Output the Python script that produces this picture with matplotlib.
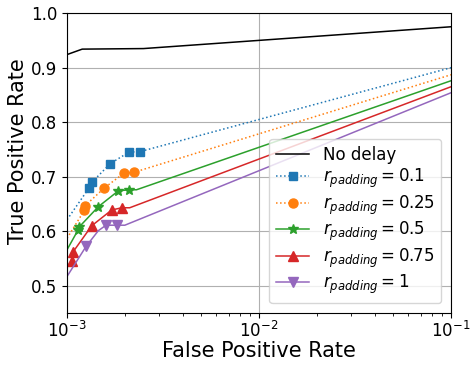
import matplotlib
matplotlib.use("Agg")
import matplotlib.pyplot as plt

# No delay curve
nodelay_fpr = [1.0e-3, 1.2e-3, 2.5e-3, 1.0e-1]
nodelay_tpr = [0.924, 0.934, 0.935, 0.975]

# r_padding = 0.1
p01_fpr = [1.0e-3, 1.306e-3, 1.35e-3, 1.68e-3, 2.10e-3, 2.40e-3, 1.0e-1]
p01_tpr = [0.621, 0.680, 0.690, 0.724, 0.745, 0.746, 0.900]
p01_marks = [1, 2, 3, 4, 5]

# r_padding = 0.25
p025_fpr = [1.0e-3, 1.23e-3, 1.245e-3, 1.56e-3, 1.97e-3, 2.23e-3, 1.0e-1]
p025_tpr = [0.587, 0.638, 0.647, 0.679, 0.706, 0.708, 0.887]
p025_marks = [1, 2, 3, 4, 5]

# r_padding = 0.5
p05_fpr = [1.0e-3, 1.145e-3, 1.159e-3, 1.456e-3, 1.85e-3, 2.10e-3, 2.30e-3, 1.0e-1]
p05_tpr = [0.566, 0.603, 0.608, 0.645, 0.674, 0.676, 0.676, 0.876]
p05_marks = [1, 2, 3, 4, 5]

# r_padding = 0.75
p075_fpr = [1.0e-3, 1.058e-3, 1.07e-3, 1.345e-3, 1.71e-3, 1.93e-3, 2.12e-3, 1.0e-1]
p075_tpr = [0.534, 0.545, 0.561, 0.610, 0.639, 0.643, 0.643, 0.865]
p075_marks = [1, 2, 3, 4, 5]

# r_padding = 1
p1_fpr = [1.0e-3, 1.256e-3, 1.456e-3, 1.596e-3, 1.815e-3, 2.0e-3, 1.0e-1]
p1_tpr = [0.517, 0.572, 0.601, 0.611, 0.611, 0.611, 0.854]
p1_marks = [1, 3, 4]

labels = ["No delay", r"$r_{padding} = 0.1$", r"$r_{padding} = 0.25$",
          r"$r_{padding} = 0.5$", r"$r_{padding} = 0.75$", r"$r_{padding} = 1$"]

fig = plt.figure(figsize=(4.77, 3.65), dpi=100)
ax = fig.add_axes([0.1405, 0.1425, 0.8050, 0.8215])

lw = 1.1
ax.plot(nodelay_fpr, nodelay_tpr, color="black", lw=lw, label=labels[0])
ax.plot(p01_fpr, p01_tpr, color="#1f77b4", ls=":", lw=lw, marker="s", ms=5.5,
        markevery=p01_marks, label=labels[1])
ax.plot(p025_fpr, p025_tpr, color="#ff7f0e", ls=":", lw=lw, marker="o", ms=6.5,
        markevery=p025_marks, label=labels[2])
ax.plot(p05_fpr, p05_tpr, color="#2ca02c", ls="-", lw=lw, marker="*", ms=7,
        markevery=p05_marks, label=labels[3])
ax.plot(p075_fpr, p075_tpr, color="#d62728", ls="-", lw=lw, marker="^", ms=6.5,
        markevery=p075_marks, label=labels[4])
ax.plot(p1_fpr, p1_tpr, color="#9467bd", ls="-", lw=lw, marker="v", ms=6.5,
        markevery=p1_marks, label=labels[5])

ax.set_xscale("log")
ax.set_xlim(1e-3, 1e-1)
ax.set_ylim(0.45, 1.0)
ax.set_yticks([0.5, 0.6, 0.7, 0.8, 0.9, 1.0])
ax.grid(True, which="major", color="#b0b0b0", lw=0.8)
ax.tick_params(labelsize=12)
ax.tick_params(axis="x", which="major", pad=2)
ax.set_xlabel("False Positive Rate", fontsize=15)
ax.set_ylabel("True Positive Rate", fontsize=15)
ax.xaxis.set_label_coords(0.5, -0.095)
ax.yaxis.set_label_coords(-0.102, 0.54)
ax.legend(loc="lower right", fontsize=12, labelspacing=0.2, borderaxespad=0.6)

fig.savefig("out.png", dpi=100)
